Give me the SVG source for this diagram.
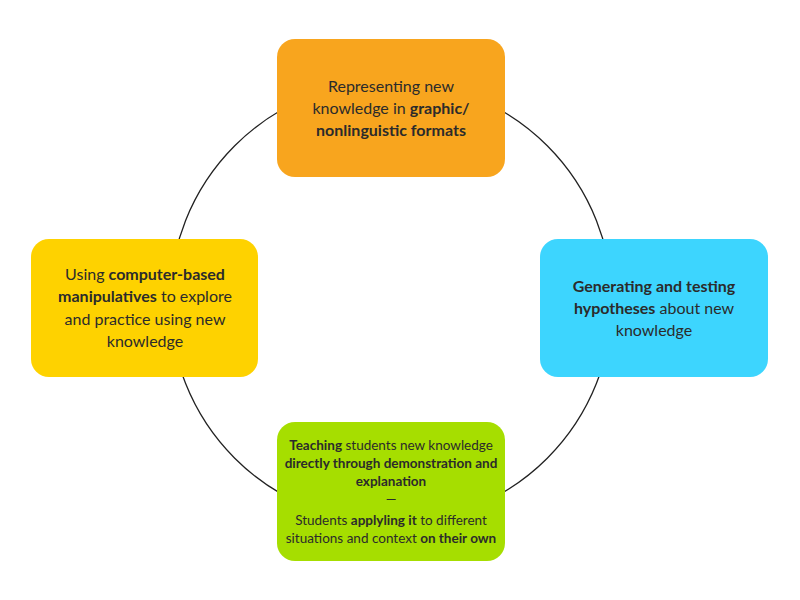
<svg xmlns="http://www.w3.org/2000/svg" width="800" height="600" viewBox="0 0 800 600">
<style>
  .box { stroke: none; }
  .t { font-family: Lato, "Open Sans", sans-serif; fill: #2b2b2b; text-anchor: middle; }
  .big { font-size: 16px; }
  .small { font-size: 13.5px; }
  .b { font-weight: bold; }
  .conn { fill: none; stroke: #222; stroke-width: 1.3; }
</style>
<rect width="800" height="600" fill="#ffffff"/>
<g id="connectors">
  <circle class="conn" cx="391" cy="302" r="221"/>
</g>
<g id="node-top">
  <rect class="box" x="277" y="39" width="228" height="138" rx="18" fill="#F8A51E"/>
  <text class="t big" x="391" y="92">Representing new</text>
  <text class="t big" x="391" y="114">knowledge in <tspan class="b">graphic/</tspan></text>
  <text class="t big" x="391" y="136"><tspan class="b">nonlinguistic formats</tspan></text>
</g>
<g id="node-left">
  <rect class="box" x="31" y="239" width="227" height="138" rx="18" fill="#FED200"/>
  <text class="t big" x="145" y="280">Using <tspan class="b">computer-based</tspan></text>
  <text class="t big" x="145" y="302"><tspan class="b">manipulatives</tspan> to explore</text>
  <text class="t big" x="145" y="325">and practice using new</text>
  <text class="t big" x="145" y="347">knowledge</text>
</g>
<g id="node-right">
  <rect class="box" x="540" y="239" width="228" height="138" rx="18" fill="#3DD5FE"/>
  <text class="t big" x="654" y="292"><tspan class="b">Generating and testing</tspan></text>
  <text class="t big" x="654" y="314"><tspan class="b">hypotheses</tspan> about new</text>
  <text class="t big" x="654" y="336">knowledge</text>
</g>
<g id="node-bottom">
  <rect class="box" x="277" y="422" width="228" height="139" rx="18" fill="#A6DE00"/>
  <text class="t small" x="391" y="450"><tspan class="b">Teaching</tspan> students new knowledge</text>
  <text class="t small" x="391" y="468"><tspan class="b">directly through demonstration and</tspan></text>
  <text class="t small" x="391" y="486"><tspan class="b">explanation</tspan></text>
  <text class="t small" x="391" y="504">—</text>
  <text class="t small" x="391" y="525">Students <tspan class="b">applyling it</tspan> to different</text>
  <text class="t small" x="391" y="543">situations and context <tspan class="b">on their own</tspan></text>
</g>
</svg>
